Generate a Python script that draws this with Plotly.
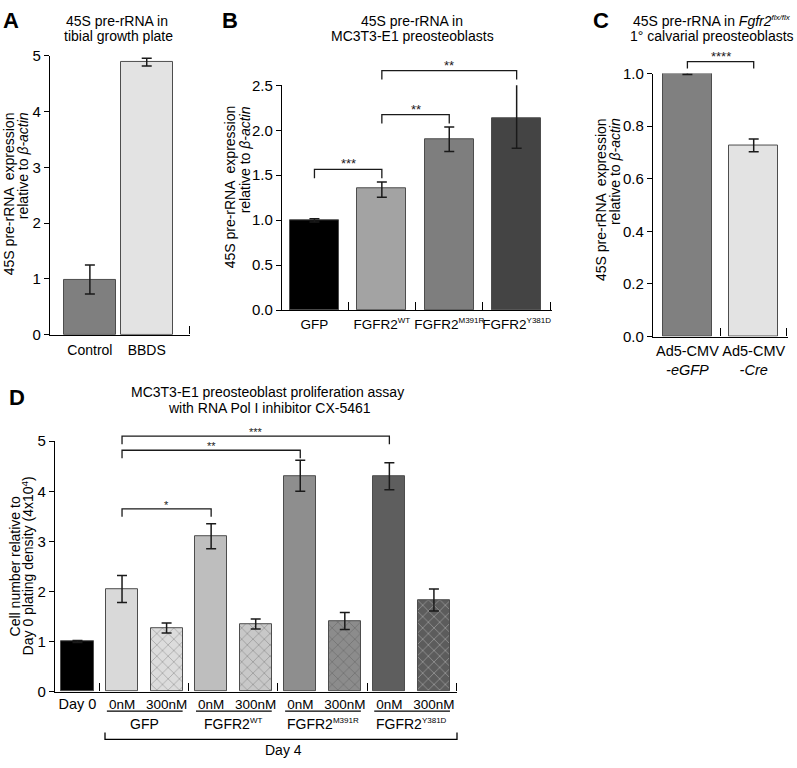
import plotly.graph_objects as go

W, H = 797, 768
FONT = "Liberation Sans, Arial, Helvetica, sans-serif"


def sup(base, s, size=8):
    return "%s<sup><span style='font-size:%dpx'>%s</span></sup>" % (base, size, s)


# ---------------- data ----------------
# Panel A
a_labels = ["Control", "BBDS"]
a_values = [0.99, 4.89]
a_err = [0.26, 0.07]
a_colors = ["#7f7f7f", "#e3e3e3"]

# Panel B
b_labels = ["GFP", sup("FGFR2", "WT"), sup("FGFR2", "M391R"), sup("FGFR2", "Y381D")]
b_values = [1.00, 1.35, 1.90, 2.13]
b_err_plus = [0.015, 0.075, 0.135, 0.39]
b_err_minus = [0.02, 0.095, 0.135, 0.33]
b_colors = ["#000000", "#a3a3a3", "#7e7e7e", "#444444"]
b_sig = [(0, 1, "***", 1.565), (1, 2, "**", 2.174), (1, 3, "**", 2.663)]

# Panel C
c_labels = ["Ad5-CMV<br><i>-eGFP</i>", "Ad5-CMV<br><i>-Cre</i>"]
c_values = [1.00, 0.727]
c_err = [0.004, 0.024]
c_colors = ["#808080", "#e3e3e3"]
c_sig = [(0, 1, "****", 1.045)]

# Panel D
d_ticktext = ["<span style='font-size:14.5px'>Day 0</span>", "0nM", "300nM", "0nM", "300nM",
              "0nM", "300nM", "0nM", "300nM"]
d_values = [1.00, 2.05, 1.27, 3.10, 1.35, 4.31, 1.41, 4.30, 1.83]
d_err = [0.02, 0.27, 0.10, 0.25, 0.10, 0.31, 0.17, 0.27, 0.22]
d_colors = ["#000000", "#d9d9d9", "#dcdcdc", "#bebebe", "#c8c8c8",
            "#8e8e8e", "#8c8c8c", "#5e5e5e", "#5c5c5c"]
d_hatch = ["", "", "x", "", "x", "", "x", "", "x"]
d_hatch_color = ["#000", "#000", "#8a8a8a", "#000", "#7a7a7a", "#000", "#444444", "#000", "#2e2e2e"]
d_groups = ["GFP", sup("FGFR2", "WT"), sup("FGFR2", "M391R"), sup("FGFR2", "Y381D")]
d_group_start = [1, 3, 5, 7]
d_sig = [(1, 7, "***", 5.10), (1, 5, "**", 4.82), (1, 3, "*", 3.65)]


def px(x):
    return x / W


def py(y):
    return 1 - y / H


fig = go.Figure()

ERR = dict(color="#1a1a1a", thickness=1.5, width=5)
OUTLINE = dict(color="#4d4d4d", width=1)

fig.add_trace(go.Bar(
    x=list(range(len(a_values))), y=a_values, width=0.912, xaxis="x", yaxis="y",
    marker=dict(color=a_colors, line=OUTLINE),
    error_y=dict(type="data", array=a_err, **ERR), cliponaxis=False, showlegend=False))

fig.add_trace(go.Bar(
    x=list(range(len(b_values))), y=b_values, width=0.726, xaxis="x2", yaxis="y2",
    marker=dict(color=b_colors, line=OUTLINE),
    error_y=dict(type="data", array=b_err_plus, arrayminus=b_err_minus, symmetric=False, **ERR),
    cliponaxis=False, showlegend=False))

fig.add_trace(go.Bar(
    x=list(range(len(c_values))), y=c_values, width=0.737, xaxis="x3", yaxis="y3",
    marker=dict(color=c_colors, line=OUTLINE),
    error_y=dict(type="data", array=c_err, **ERR), cliponaxis=False, showlegend=False))

fig.add_trace(go.Bar(
    x=list(range(len(d_values))), y=d_values, width=0.72, xaxis="x4", yaxis="y4",
    marker=dict(color=d_colors, line=OUTLINE,
                pattern=dict(shape=d_hatch, fgcolor=d_hatch_color, bgcolor=d_colors,
                             size=8, solidity=0.14, fillmode="overlay")),
    error_y=dict(type="data", array=d_err, **ERR), cliponaxis=False, showlegend=False))


def yax(dom, rng, dtick, fmt, anchor, size=15):
    return dict(domain=[py(dom[0]), py(dom[1])], range=rng, dtick=dtick, tickformat=fmt,
                anchor=anchor, showline=True, linecolor="black", linewidth=1.3,
                ticks="outside", ticklen=5, tickwidth=1.3, tickcolor="black",
                tickfont=dict(size=size, color="black"), showgrid=False, zeroline=False)


def xax(dom, rng, n, labels, seps, anchor, size=14, standoff=0):
    return dict(domain=[px(dom[0]), px(dom[1])], range=rng, anchor=anchor,
                tickmode="array", tickvals=list(range(n)), ticktext=labels, tickangle=0,
                ticks="", showline=True, linecolor="black", linewidth=1.3,
                tickfont=dict(size=size, color="black"), ticklabelstandoff=standoff,
                showgrid=False, zeroline=False,
                minor=dict(tickmode="array", tickvals=seps, ticks="inside", ticklen=8,
                           tickwidth=1.3, tickcolor="black", showgrid=False))


a_unit = 57.0
b_unit = 67.5
c_unit = 66.5
d_unit = 44.6
fig.update_layout(
    xaxis=xax((50, 190), [(50 - 90) / a_unit, (190.4 - 90) / a_unit], 2, a_labels,
              [(190 - 90) / a_unit], "y", standoff=2),
    yaxis=yax((333, 48), [0, 5], 1, "d", "x"),
    xaxis2=xax((282, 552), [(282 - 314.5) / b_unit, (552.4 - 314.5) / b_unit], 4, b_labels,
               [0.5, 1.5, 2.5, 3.5], "y2", size=13.5, standoff=1),
    yaxis2=yax((308, 78), [0, 2.5], 0.5, ".1f", "x2"),
    xaxis3=xax((653, 788), [(653 - 687.5) / c_unit, (788.4 - 687.5) / c_unit], 2, c_labels,
               [0.5, 1.5], "y3", size=14.5, standoff=1),
    yaxis3=yax((335, 66), [0, 1.0], 0.2, ".1f", "x3", size=15),
    xaxis4=xax((55, 457), [(55 - 77.5) / d_unit, (457.4 - 77.5) / d_unit], 9, d_ticktext,
               [0.5, 2.5, 4.5, 6.5, 8.5], "y4", size=13.5, standoff=0),
    yaxis4=yax((698, 442), [0, 5], 1, "d", "x4"),
)

ann = []
shapes = []


def text(t, x, y, size=14, **kw):
    d = dict(text=t, x=px(x), y=py(y), xref="paper", yref="paper", showarrow=False,
             font=dict(size=size, color="black", family=FONT), xanchor="center", yanchor="middle")
    d.update(kw)
    ann.append(d)


# panel letters
for letter, x, y in [("A", 11, 12), ("B", 230, 12), ("C", 601, 12), ("D", 17, 397)]:
    text("<b>%s</b>" % letter, x, y, size=22)

# titles
text("45S pre-rRNA in", 117, 12)
text("tibial growth plate", 118, 28)
text("45S pre-rRNA in", 412, 12)
text("MC3T3-E1 preosteoblasts", 412, 28)
text("45S pre-rRNA in <i>Fgfr2</i>" + "<sup><span style='font-size:8px'><i>flx/flx</i></span></sup>",
     712, 12)
text("1° calvarial preosteoblasts", 712, 28)
text("MC3T3-E1 preosteoblast proliferation assay", 267, 392)
text("with RNA Pol I inhibitor CX-5461", 269, 408)

# y axis titles
for (x1, x2, ytop) in [(9, 23, 104), (230, 245, 97), (601, 615, 110)]:
    text("45S pre-rRNA  expression", x1, ytop, textangle=-90, yanchor="top")
    text("relative to <i>β-actin</i>", x2, ytop, textangle=-90, yanchor="top")
text("Cell number relative to", 15, 570, textangle=-90)
text("Day 0 plating density (4x10<sup>4</sup>)", 28, 570, textangle=-90)


# significance brackets
def brackets(sig, xr, ydr, ymax, drop, size):
    for i, j, lab, yv in sig:
        y_top = yv / ymax
        y_bot = (yv - drop) / ymax
        shapes.append(dict(type="path", xref=xr, yref=ydr,
                           path="M %g,%g L %g,%g L %g,%g L %g,%g" % (i, y_bot, i, y_top, j, y_top, j, y_bot),
                           line=dict(color="#1a1a1a", width=1.3)))
        ann.append(dict(text=lab, x=(i + j) / 2, y=y_top, xref=xr, yref=ydr,
                        showarrow=False, yanchor="bottom", yshift=-4,
                        font=dict(size=size, color="#1a1a1a", family=FONT)))


brackets(b_sig, "x2", "y2 domain", 2.5, 0.098, 13)
brackets(c_sig, "x3", "y3 domain", 1.0, 0.026, 13)
brackets(d_sig, "x4", "y4 domain", 5.0, 0.16, 11)

# panel D group labels, underlines and Day 4 bracket
for g, lab in zip(d_group_start, d_groups):
    shapes.append(dict(type="line", xref="x4", yref="paper", x0=g - 0.34, x1=g + 1 + 0.36,
                       y0=py(718), y1=py(718), line=dict(color="black", width=1.3)))
    ann.append(dict(text=lab, x=g + 0.5, y=py(731), xref="x4", yref="paper", showarrow=False,
                    font=dict(size=14, color="black", family=FONT), yanchor="middle"))

shapes.append(dict(type="path", xref="paper", yref="paper",
                   path="M %g,%g L %g,%g L %g,%g L %g,%g" % (px(105), py(740), px(105), py(747),
                                                              px(457), py(747), px(457), py(740)),
                   line=dict(color="black", width=1.3)))
text("Day 4", 283, 758)

fig.update_layout(
    width=W, height=H, margin=dict(l=0, r=0, t=0, b=0),
    paper_bgcolor="white", plot_bgcolor="white",
    font=dict(family=FONT, color="black", size=14),
    annotations=ann, shapes=shapes, bargap=0, showlegend=False,
)

fig.write_html("out.html", config={"displayModeBar": False},
               post_script="document.body.style.margin='0px';document.body.style.padding='0px';")
